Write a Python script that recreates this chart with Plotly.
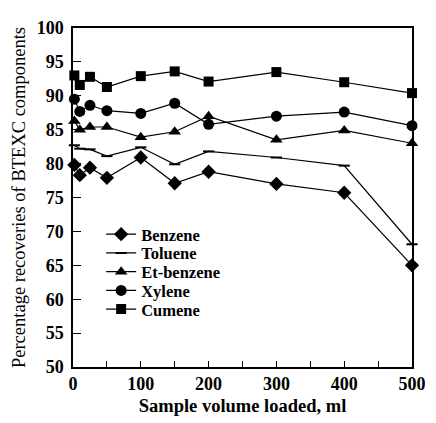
import plotly.graph_objects as go

volume = [2, 10, 25, 50, 100, 150, 200, 300, 400, 500]
benzene = [79.8, 78.3, 79.4, 77.9, 80.9, 77.1, 78.8, 77.0, 75.7, 65.0]
toluene = [82.7, 82.2, 82.1, 81.1, 82.4, 79.9, 81.8, 80.9, 79.7, 68.1]
etbenzene = [86.3, 85.0, 85.4, 85.4, 83.9, 84.7, 87.0, 83.5, 84.9, 83.0]
xylene = [89.5, 87.7, 88.6, 87.8, 87.4, 88.9, 85.8, 87.0, 87.6, 85.6]
cumene = [93.0, 91.6, 92.8, 91.3, 92.9, 93.6, 92.1, 93.5, 92.0, 90.4]

series = [
    ("Benzene", benzene, dict(symbol="diamond", size=11, color="black")),
    ("Toluene", toluene, dict(symbol="line-ew", size=8, color="black",
                              line=dict(color="black", width=2))),
    ("Et-benzene", etbenzene, dict(symbol="triangle-up", size=11, color="black")),
    ("Xylene", xylene, dict(symbol="circle", size=11, color="black")),
    ("Cumene", cumene, dict(symbol="square", size=10, color="black")),
]

serif = "Liberation Serif, Times New Roman, serif"

fig = go.Figure()
legend_layout = {}
# the page body has an 8px margin; figure is sized to fill the 436x423 window
plot_top, plot_h = 10, 353
row_centres = [233, 252.5, 272, 291.5, 311]
for i, (name, vals, mk) in enumerate(series):
    lg = "legend" if i == 0 else f"legend{i + 1}"
    fig.add_trace(go.Scatter(
        x=volume, y=vals, name=name, mode="lines+markers",
        line=dict(color="black", width=1.2), marker=mk, cliponaxis=False,
        legend=lg,
    ))
    legend_layout[lg] = dict(
        x=0.083, y=1 - (row_centres[i] - 8 - plot_top) / plot_h,
        xanchor="left", yanchor="middle", bgcolor="rgba(0,0,0,0)",
        font=dict(family=serif, size=16.5, color="black", weight="bold"),
        itemwidth=30,
    )

fig.update_layout(
    width=428, height=415,
    margin=dict(l=63, r=15, t=plot_top, b=52),
    paper_bgcolor="white", plot_bgcolor="white",
    font=dict(family=serif, color="black"),
    showlegend=True,
    xaxis=dict(
        range=[0, 500], tickvals=[0, 100, 200, 300, 400, 500],
        ticks="inside", ticklen=6, tickwidth=1, tickcolor="black",
        minor=dict(tickvals=[50, 150, 250, 350, 450], ticks="inside", ticklen=6,
                   tickcolor="black"),
        showline=True, linecolor="black", linewidth=1.5, mirror=True,
        showgrid=False, zeroline=False,
        tickfont=dict(family=serif, size=18, color="black", weight="bold"),
        title=dict(text="Sample volume loaded, ml", standoff=6,
                   font=dict(family=serif, size=18.5, color="black", weight="bold")),
    ),
    yaxis=dict(
        range=[50, 100], dtick=5,
        ticks="inside", ticklen=8, tickwidth=1, tickcolor="black",
        showline=True, linecolor="black", linewidth=1.5, mirror=True,
        showgrid=False, zeroline=False,
        ticklabelstandoff=4,
        tickfont=dict(family=serif, size=18, color="black", weight="bold"),
        title=dict(text="Percentage recoveries of BTEXC components", standoff=6,
                   font=dict(family=serif, size=18.5, color="black")),
    ),
    **legend_layout,
)

fig.write_html("out.html")
